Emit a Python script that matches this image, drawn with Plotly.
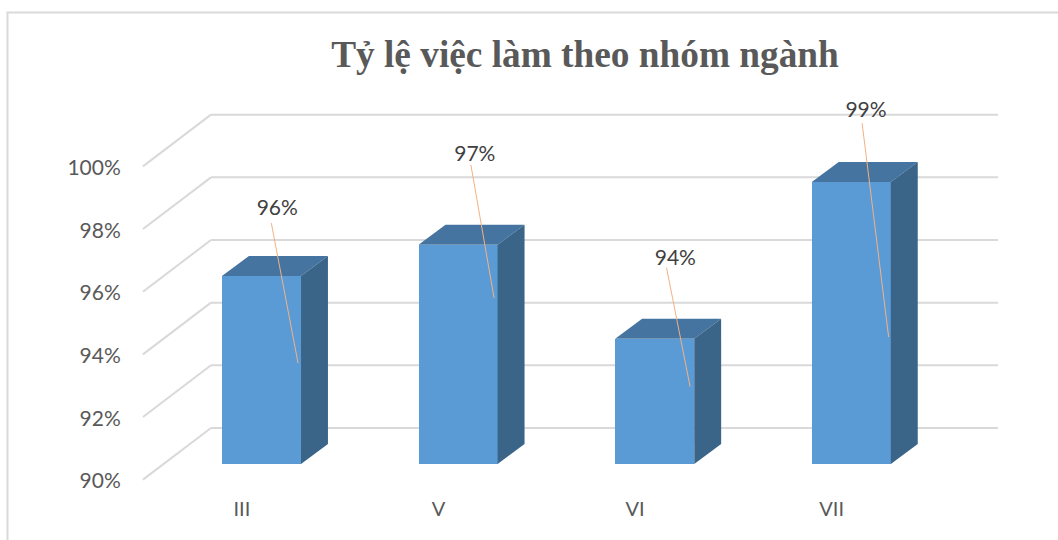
import plotly.graph_objects as go

# --- data ---
categories = ["III", "V", "VI", "VII"]
values = [96, 97, 94, 99]
value_labels = ["96%", "97%", "94%", "99%"]
y_ticks = [90, 92, 94, 96, 98, 100]
y_tick_labels = ["90%", "92%", "94%", "96%", "98%", "100%"]
# manually placed data labels, relative to each bar's top-centre (x in categories, y in %)
label_dx = [0.08, 0.085, 0.105, 0.075]
label_dy = [2.10, 2.84, 2.52, 2.23]
leader_start_dx = [0.05, 0.065, 0.06, 0.055]
leader_start_dy = [1.69, 2.55, 2.27, 1.88]
leader_end_dx = [0.186, 0.183, 0.18, 0.19]
leader_end_dy = [-2.78, -1.70, -1.53, -4.95]

# --- geometry (style) ---
W, H = 1058, 540
L, R, T, B = 130, 1058, 90, 495
PX_X = 196.6           # pixels per category
PX_Y = 31.33           # pixels per percent
X0_PX, Y0_PX = 261.5, 464.0   # bar 0 centre, value-90 pixel
BAR_W = 0.402
DEPTH_X, DEPTH_Y = 0.137, 0.64
FLOOR = 90
xr = [(L - X0_PX) / PX_X, (R - X0_PX) / PX_X]
yr = [90 - (B - Y0_PX) / PX_Y, 90 + (Y0_PX - T) / PX_Y]
TICK_SHIFT = -0.50     # front grid ends sit in front of the bar plane
LABEL_SHIFT = -0.54    # tick labels
BACK_SHIFT = 1.15
GX_FRONT, GX_BACK, GX_END = -0.603, -0.257, 3.746
GRID = "#d9d9d9"
FONT = "Lato, Carlito, sans-serif"

xs = list(range(len(categories)))
fig = go.Figure()

# front faces
fig.add_trace(go.Bar(x=xs, y=[v - FLOOR for v in values], base=FLOOR, width=BAR_W,
                     marker=dict(color="#5b9bd5", line=dict(width=0)),
                     showlegend=False, hoverinfo="skip"))

# top and side faces
for i, v in enumerate(values):
    x1, x2 = i - BAR_W / 2, i + BAR_W / 2
    fig.add_trace(go.Scatter(
        x=[x1, x2, x2 + DEPTH_X, x1 + DEPTH_X, x1],
        y=[v, v, v + DEPTH_Y, v + DEPTH_Y, v],
        mode="lines", fill="toself", fillcolor="#44749f", line=dict(width=0),
        showlegend=False, hoverinfo="skip"))
    fig.add_trace(go.Scatter(
        x=[x2, x2 + DEPTH_X, x2 + DEPTH_X, x2, x2],
        y=[v, v + DEPTH_Y, FLOOR + DEPTH_Y, FLOOR, v],
        mode="lines", fill="toself", fillcolor="#3a6488", line=dict(width=0),
        showlegend=False, hoverinfo="skip"))

# leader lines and data labels
for i, v in enumerate(values):
    fig.add_trace(go.Scatter(
        x=[i + leader_start_dx[i], i + leader_end_dx[i]],
        y=[v + leader_start_dy[i], v + leader_end_dy[i]],
        mode="lines", line=dict(color="#f4b183", width=1),
        showlegend=False, hoverinfo="skip"))
fig.add_trace(go.Scatter(
    x=[i + d for i, d in zip(xs, label_dx)],
    y=[v + d for v, d in zip(values, label_dy)],
    mode="text", text=value_labels, textposition="middle center",
    textfont=dict(family=FONT, size=21, color="#404040"),
    showlegend=False, hoverinfo="skip"))

# gridlines: side wall + back wall, layered behind the bars
shapes = []
for t in y_ticks:
    shapes.append(dict(type="line", layer="below", xref="x", yref="y",
                       x0=GX_FRONT, y0=t + TICK_SHIFT, x1=GX_BACK, y1=t + BACK_SHIFT,
                       line=dict(color=GRID, width=2)))
    shapes.append(dict(type="line", layer="below", xref="x", yref="y",
                       x0=GX_BACK, y0=t + BACK_SHIFT, x1=GX_END, y1=t + BACK_SHIFT,
                       line=dict(color=GRID, width=2)))
# outer chart frame (top and left edges)
frame_l, frame_t = (7.5 - L) / (R - L), 1 + (T - 12.5) / (B - T)
frame_b = -(H - B) / (B - T)
shapes.append(dict(type="path", layer="below", xref="paper", yref="paper",
                   path=f"M {frame_l} {frame_b} L {frame_l} {frame_t} L 1 {frame_t}",
                   line=dict(color=GRID, width=2)))

fig.update_layout(
    width=W, height=H, autosize=False,
    margin=dict(l=L, r=W - R, t=T, b=H - B, pad=0),
    paper_bgcolor="white", plot_bgcolor="rgba(0,0,0,0)",
    showlegend=False, shapes=shapes, bargap=0,
    title=dict(text="<b>Tỷ lệ việc làm theo nhóm ngành</b>", x=585 / W, xanchor="center",
               y=1 - 53.5 / H, yanchor="middle",
               font=dict(family="Liberation Serif, serif", size=37.3, color="#595959")),
    xaxis=dict(range=xr, tickmode="array", tickvals=[i - 0.1 for i in xs], ticktext=categories,
               showgrid=False, zeroline=False, showline=False, ticks="", fixedrange=True,
               tickfont=dict(family=FONT, size=20, color="#595959")),
    yaxis=dict(range=yr, tickmode="array", tickvals=[t + LABEL_SHIFT for t in y_ticks],
               ticktext=y_tick_labels, showgrid=False, zeroline=False, showline=False,
               ticks="outside", ticklen=4, tickcolor="rgba(0,0,0,0)", fixedrange=True,
               tickfont=dict(family=FONT, size=21, color="#595959")),
)
fig.write_html("out.html", post_script="document.body.style.margin='0';",
               config={"displayModeBar": False})
